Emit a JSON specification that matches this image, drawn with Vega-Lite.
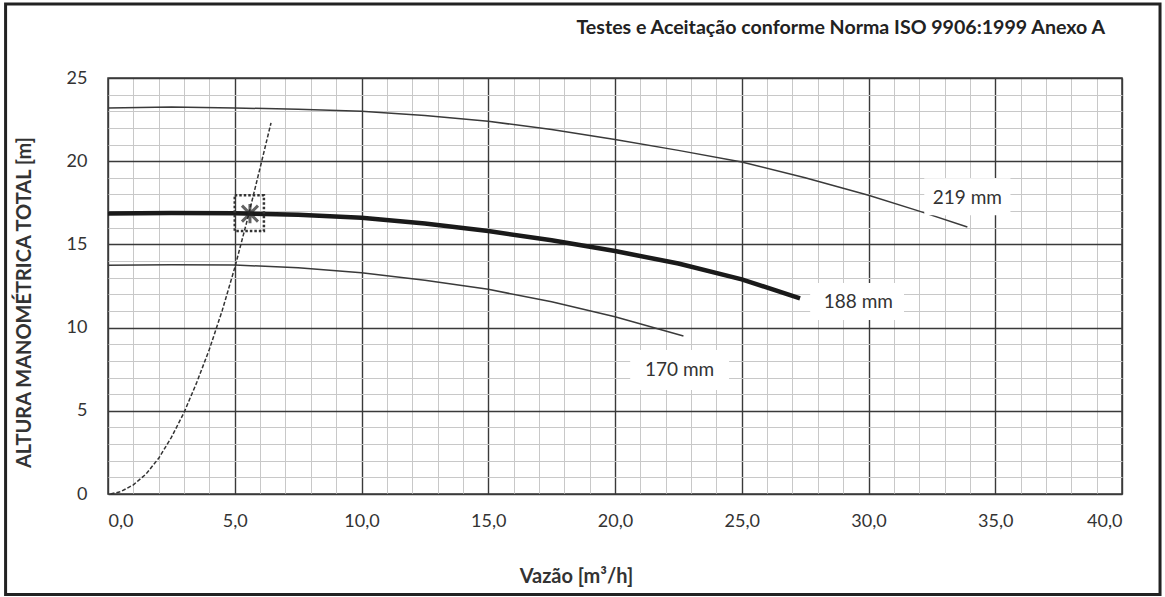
{
  "$schema": "https://vega.github.io/schema/vega-lite/v6.json",
  "width": 1014,
  "height": 416,
  "autosize": "none",
  "padding": {"left": 108, "top": 78, "right": 43, "bottom": 103},
  "background": "white",
  "config": {
    "view": {"stroke": "#3a3a3a", "strokeWidth": 1.5},
    "font": "Lato"
  },
  "title": {
    "text": "Testes e Aceitação conforme Norma ISO 9906:1999 Anexo A",
    "anchor": "end",
    "frame": "group",
    "font": "Lato",
    "fontSize": 19.6,
    "fontWeight": "bold",
    "color": "#222",
    "offset": -36,
    "dx": -17
  },
  "datasets": {
    "curves": [
      {"curve": "219 mm", "x": 0, "y": 23.2},
      {"curve": "219 mm", "x": 2.5, "y": 23.25},
      {"curve": "219 mm", "x": 5, "y": 23.2},
      {"curve": "219 mm", "x": 7.5, "y": 23.12},
      {"curve": "219 mm", "x": 10, "y": 23.0},
      {"curve": "219 mm", "x": 12.5, "y": 22.75},
      {"curve": "219 mm", "x": 15, "y": 22.4},
      {"curve": "219 mm", "x": 17.5, "y": 21.9},
      {"curve": "219 mm", "x": 20, "y": 21.3},
      {"curve": "219 mm", "x": 22.5, "y": 20.65},
      {"curve": "219 mm", "x": 25, "y": 19.95},
      {"curve": "219 mm", "x": 27.5, "y": 19.0},
      {"curve": "219 mm", "x": 30, "y": 17.95},
      {"curve": "219 mm", "x": 32, "y": 17.0},
      {"curve": "219 mm", "x": 33.9, "y": 16.05},
      {"curve": "188 mm", "x": 0, "y": 16.85},
      {"curve": "188 mm", "x": 2.5, "y": 16.88},
      {"curve": "188 mm", "x": 5, "y": 16.87},
      {"curve": "188 mm", "x": 7.5, "y": 16.78},
      {"curve": "188 mm", "x": 10, "y": 16.6},
      {"curve": "188 mm", "x": 12.5, "y": 16.25},
      {"curve": "188 mm", "x": 15, "y": 15.8},
      {"curve": "188 mm", "x": 17.5, "y": 15.25},
      {"curve": "188 mm", "x": 20, "y": 14.6},
      {"curve": "188 mm", "x": 22.5, "y": 13.85},
      {"curve": "188 mm", "x": 25, "y": 12.9},
      {"curve": "188 mm", "x": 27.3, "y": 11.75},
      {"curve": "170 mm", "x": 0, "y": 13.75},
      {"curve": "170 mm", "x": 2.5, "y": 13.78},
      {"curve": "170 mm", "x": 5, "y": 13.76},
      {"curve": "170 mm", "x": 7.5, "y": 13.6},
      {"curve": "170 mm", "x": 10, "y": 13.3},
      {"curve": "170 mm", "x": 12.5, "y": 12.85},
      {"curve": "170 mm", "x": 15, "y": 12.3},
      {"curve": "170 mm", "x": 17.5, "y": 11.55},
      {"curve": "170 mm", "x": 20, "y": 10.65},
      {"curve": "170 mm", "x": 22.7, "y": 9.5},
      {"curve": "sistema", "x": 0.1, "y": 0},
      {"curve": "sistema", "x": 0.5, "y": 0.14},
      {"curve": "sistema", "x": 1, "y": 0.55},
      {"curve": "sistema", "x": 1.5, "y": 1.2},
      {"curve": "sistema", "x": 2, "y": 2.15},
      {"curve": "sistema", "x": 2.5, "y": 3.4},
      {"curve": "sistema", "x": 3, "y": 4.9},
      {"curve": "sistema", "x": 3.5, "y": 6.7},
      {"curve": "sistema", "x": 4, "y": 8.7},
      {"curve": "sistema", "x": 4.5, "y": 11.0},
      {"curve": "sistema", "x": 5, "y": 13.6},
      {"curve": "sistema", "x": 5.5, "y": 16.5},
      {"curve": "sistema", "x": 6, "y": 19.6},
      {"curve": "sistema", "x": 6.43, "y": 22.3}
    ],
    "labels": [
      {"label": "219 mm", "x": 33.9, "y": 17.76, "x0": 32.2, "x1": 35.6, "y0": 16.75, "y1": 18.97},
      {"label": "188 mm", "x": 29.6, "y": 11.55, "x0": 27.7, "x1": 31.4, "y0": 10.45, "y1": 12.68},
      {"label": "170 mm", "x": 22.55, "y": 7.46, "x0": 20.6, "x1": 24.5, "y0": 6.25, "y1": 8.65}
    ],
    "point": [
      {"x": 5.6, "y": 16.85, "x0": 5.0, "x1": 6.15, "y0": 15.8, "y1": 17.95}
    ]
  },
  "layer": [
    {
      "data": {"name": "curves"},
      "transform": [{"filter": "datum.curve === '219 mm' || datum.curve === '170 mm'"}],
      "mark": {"type": "line", "color": "#3a3a3a", "strokeWidth": 1.5},
      "encoding": {
        "detail": {"field": "curve"},
        "x": {"field": "x", "type": "quantitative", "scale": {"domain": [0, 40], "nice": false, "zero": false},
          "axis": {"values": [0,1,2,3,4,5,6,7,8,9,10,11,12,13,14,15,16,17,18,19,20,21,22,23,24,25,26,27,28,29,30,31,32,33,34,35,36,37,38,39,40], "labelExpr": "datum.value % 5 === 0 ? replace(format(datum.value, '.1f'), '.', ',') : ''", "labelOverlap": false, "labelFont": "Lato", "labelFontSize": 18, "labelColor": "#333", "labelPadding": 18, "ticks": false, "domain": false, "grid": true, "gridColor": {"condition": {"test": "datum.value % 5 === 0", "value": "#3a3a3a"}, "value": "#c8c8c8"}, "gridWidth": {"condition": {"test": "datum.value % 5 === 0", "value": 1.4}, "value": 1}, "title": "Vazão [m³/h]", "titleFont": "Lato", "titleFontSize": 20, "titleFontWeight": "bold", "titleColor": "#333", "titleX": 468, "titleY": 82, "titleBaseline": "middle", "titleAlign": "center"}},
        "y": {"field": "y", "type": "quantitative", "scale": {"domain": [0, 25], "nice": false, "zero": false},
          "axis": {"values": [0,1,2,3,4,5,6,7,8,9,10,11,12,13,14,15,16,17,18,19,20,21,22,23,24,25], "labelExpr": "datum.value % 5 === 0 ? format(datum.value, 'd') : ''", "labelOverlap": false, "labelFont": "Lato", "labelFontSize": 18, "labelColor": "#333", "labelPadding": 21, "ticks": false, "domain": false, "grid": true, "gridColor": {"condition": {"test": "datum.value % 5 === 0", "value": "#3a3a3a"}, "value": "#c8c8c8"}, "gridWidth": {"condition": {"test": "datum.value % 5 === 0", "value": 1.4}, "value": 1}, "title": "ALTURA MANOMÉTRICA TOTAL [m]", "titleFont": "Lato", "titleFontSize": 20, "titleFontWeight": "bold", "titleColor": "#333", "titleX": -84, "titleY": 224, "titleAngle": -90, "titleBaseline": "middle", "titleAlign": "center"}}
      }
    },
    {
      "data": {"name": "curves"},
      "transform": [{"filter": "datum.curve === '188 mm'"}],
      "mark": {"type": "line", "color": "#1a1a1a", "strokeWidth": 4.5},
      "encoding": {
        "x": {"field": "x", "type": "quantitative", "scale": {"domain": [0, 40], "nice": false, "zero": false},
          "axis": {"values": [0,1,2,3,4,5,6,7,8,9,10,11,12,13,14,15,16,17,18,19,20,21,22,23,24,25,26,27,28,29,30,31,32,33,34,35,36,37,38,39,40], "labelExpr": "datum.value % 5 === 0 ? replace(format(datum.value, '.1f'), '.', ',') : ''", "labelOverlap": false, "labelFont": "Lato", "labelFontSize": 18, "labelColor": "#333", "labelPadding": 18, "ticks": false, "domain": false, "grid": true, "gridColor": {"condition": {"test": "datum.value % 5 === 0", "value": "#3a3a3a"}, "value": "#c8c8c8"}, "gridWidth": {"condition": {"test": "datum.value % 5 === 0", "value": 1.4}, "value": 1}, "title": "Vazão [m³/h]", "titleFont": "Lato", "titleFontSize": 20, "titleFontWeight": "bold", "titleColor": "#333", "titleX": 468, "titleY": 82, "titleBaseline": "middle", "titleAlign": "center"}},
        "y": {"field": "y", "type": "quantitative", "scale": {"domain": [0, 25], "nice": false, "zero": false},
          "axis": {"values": [0,1,2,3,4,5,6,7,8,9,10,11,12,13,14,15,16,17,18,19,20,21,22,23,24,25], "labelExpr": "datum.value % 5 === 0 ? format(datum.value, 'd') : ''", "labelOverlap": false, "labelFont": "Lato", "labelFontSize": 18, "labelColor": "#333", "labelPadding": 21, "ticks": false, "domain": false, "grid": true, "gridColor": {"condition": {"test": "datum.value % 5 === 0", "value": "#3a3a3a"}, "value": "#c8c8c8"}, "gridWidth": {"condition": {"test": "datum.value % 5 === 0", "value": 1.4}, "value": 1}, "title": "ALTURA MANOMÉTRICA TOTAL [m]", "titleFont": "Lato", "titleFontSize": 20, "titleFontWeight": "bold", "titleColor": "#333", "titleX": -84, "titleY": 224, "titleAngle": -90, "titleBaseline": "middle", "titleAlign": "center"}}
      }
    },
    {
      "data": {"name": "curves"},
      "transform": [{"filter": "datum.curve === 'sistema'"}],
      "mark": {"type": "line", "color": "#333", "strokeWidth": 1.5, "strokeDash": [4, 2]},
      "encoding": {
        "x": {"field": "x", "type": "quantitative", "scale": {"domain": [0, 40], "nice": false, "zero": false},
          "axis": {"values": [0,1,2,3,4,5,6,7,8,9,10,11,12,13,14,15,16,17,18,19,20,21,22,23,24,25,26,27,28,29,30,31,32,33,34,35,36,37,38,39,40], "labelExpr": "datum.value % 5 === 0 ? replace(format(datum.value, '.1f'), '.', ',') : ''", "labelOverlap": false, "labelFont": "Lato", "labelFontSize": 18, "labelColor": "#333", "labelPadding": 18, "ticks": false, "domain": false, "grid": true, "gridColor": {"condition": {"test": "datum.value % 5 === 0", "value": "#3a3a3a"}, "value": "#c8c8c8"}, "gridWidth": {"condition": {"test": "datum.value % 5 === 0", "value": 1.4}, "value": 1}, "title": "Vazão [m³/h]", "titleFont": "Lato", "titleFontSize": 20, "titleFontWeight": "bold", "titleColor": "#333", "titleX": 468, "titleY": 82, "titleBaseline": "middle", "titleAlign": "center"}},
        "y": {"field": "y", "type": "quantitative", "scale": {"domain": [0, 25], "nice": false, "zero": false},
          "axis": {"values": [0,1,2,3,4,5,6,7,8,9,10,11,12,13,14,15,16,17,18,19,20,21,22,23,24,25], "labelExpr": "datum.value % 5 === 0 ? format(datum.value, 'd') : ''", "labelOverlap": false, "labelFont": "Lato", "labelFontSize": 18, "labelColor": "#333", "labelPadding": 21, "ticks": false, "domain": false, "grid": true, "gridColor": {"condition": {"test": "datum.value % 5 === 0", "value": "#3a3a3a"}, "value": "#c8c8c8"}, "gridWidth": {"condition": {"test": "datum.value % 5 === 0", "value": 1.4}, "value": 1}, "title": "ALTURA MANOMÉTRICA TOTAL [m]", "titleFont": "Lato", "titleFontSize": 20, "titleFontWeight": "bold", "titleColor": "#333", "titleX": -84, "titleY": 224, "titleAngle": -90, "titleBaseline": "middle", "titleAlign": "center"}}
      }
    },
    {
      "data": {"name": "labels"},
      "mark": {"type": "rect", "fill": "white"},
      "encoding": {
        "x": {"field": "x0", "type": "quantitative", "scale": {"domain": [0, 40], "nice": false, "zero": false},
          "axis": {"values": [0,1,2,3,4,5,6,7,8,9,10,11,12,13,14,15,16,17,18,19,20,21,22,23,24,25,26,27,28,29,30,31,32,33,34,35,36,37,38,39,40], "labelExpr": "datum.value % 5 === 0 ? replace(format(datum.value, '.1f'), '.', ',') : ''", "labelOverlap": false, "labelFont": "Lato", "labelFontSize": 18, "labelColor": "#333", "labelPadding": 18, "ticks": false, "domain": false, "grid": true, "gridColor": {"condition": {"test": "datum.value % 5 === 0", "value": "#3a3a3a"}, "value": "#c8c8c8"}, "gridWidth": {"condition": {"test": "datum.value % 5 === 0", "value": 1.4}, "value": 1}, "title": "Vazão [m³/h]", "titleFont": "Lato", "titleFontSize": 20, "titleFontWeight": "bold", "titleColor": "#333", "titleX": 468, "titleY": 82, "titleBaseline": "middle", "titleAlign": "center"}},
        "x2": {"field": "x1"},
        "y": {"field": "y0", "type": "quantitative", "scale": {"domain": [0, 25], "nice": false, "zero": false},
          "axis": {"values": [0,1,2,3,4,5,6,7,8,9,10,11,12,13,14,15,16,17,18,19,20,21,22,23,24,25], "labelExpr": "datum.value % 5 === 0 ? format(datum.value, 'd') : ''", "labelOverlap": false, "labelFont": "Lato", "labelFontSize": 18, "labelColor": "#333", "labelPadding": 21, "ticks": false, "domain": false, "grid": true, "gridColor": {"condition": {"test": "datum.value % 5 === 0", "value": "#3a3a3a"}, "value": "#c8c8c8"}, "gridWidth": {"condition": {"test": "datum.value % 5 === 0", "value": 1.4}, "value": 1}, "title": "ALTURA MANOMÉTRICA TOTAL [m]", "titleFont": "Lato", "titleFontSize": 20, "titleFontWeight": "bold", "titleColor": "#333", "titleX": -84, "titleY": 224, "titleAngle": -90, "titleBaseline": "middle", "titleAlign": "center"}},
        "y2": {"field": "y1"}
      }
    },
    {
      "data": {"name": "labels"},
      "mark": {"type": "text", "font": "Lato", "fontSize": 19, "color": "#333", "align": "center", "baseline": "middle"},
      "encoding": {
        "x": {"field": "x", "type": "quantitative", "scale": {"domain": [0, 40], "nice": false, "zero": false},
          "axis": {"values": [0,1,2,3,4,5,6,7,8,9,10,11,12,13,14,15,16,17,18,19,20,21,22,23,24,25,26,27,28,29,30,31,32,33,34,35,36,37,38,39,40], "labelExpr": "datum.value % 5 === 0 ? replace(format(datum.value, '.1f'), '.', ',') : ''", "labelOverlap": false, "labelFont": "Lato", "labelFontSize": 18, "labelColor": "#333", "labelPadding": 18, "ticks": false, "domain": false, "grid": true, "gridColor": {"condition": {"test": "datum.value % 5 === 0", "value": "#3a3a3a"}, "value": "#c8c8c8"}, "gridWidth": {"condition": {"test": "datum.value % 5 === 0", "value": 1.4}, "value": 1}, "title": "Vazão [m³/h]", "titleFont": "Lato", "titleFontSize": 20, "titleFontWeight": "bold", "titleColor": "#333", "titleX": 468, "titleY": 82, "titleBaseline": "middle", "titleAlign": "center"}},
        "y": {"field": "y", "type": "quantitative", "scale": {"domain": [0, 25], "nice": false, "zero": false},
          "axis": {"values": [0,1,2,3,4,5,6,7,8,9,10,11,12,13,14,15,16,17,18,19,20,21,22,23,24,25], "labelExpr": "datum.value % 5 === 0 ? format(datum.value, 'd') : ''", "labelOverlap": false, "labelFont": "Lato", "labelFontSize": 18, "labelColor": "#333", "labelPadding": 21, "ticks": false, "domain": false, "grid": true, "gridColor": {"condition": {"test": "datum.value % 5 === 0", "value": "#3a3a3a"}, "value": "#c8c8c8"}, "gridWidth": {"condition": {"test": "datum.value % 5 === 0", "value": 1.4}, "value": 1}, "title": "ALTURA MANOMÉTRICA TOTAL [m]", "titleFont": "Lato", "titleFontSize": 20, "titleFontWeight": "bold", "titleColor": "#333", "titleX": -84, "titleY": 224, "titleAngle": -90, "titleBaseline": "middle", "titleAlign": "center"}},
        "text": {"field": "label"}
      }
    },
    {
      "data": {"name": "point"},
      "mark": {"type": "rect", "fill": null, "fillOpacity": 0, "stroke": "#333", "strokeWidth": 2.5, "strokeDash": [2.5, 2]},
      "encoding": {
        "x": {"field": "x0", "type": "quantitative", "scale": {"domain": [0, 40], "nice": false, "zero": false},
          "axis": {"values": [0,1,2,3,4,5,6,7,8,9,10,11,12,13,14,15,16,17,18,19,20,21,22,23,24,25,26,27,28,29,30,31,32,33,34,35,36,37,38,39,40], "labelExpr": "datum.value % 5 === 0 ? replace(format(datum.value, '.1f'), '.', ',') : ''", "labelOverlap": false, "labelFont": "Lato", "labelFontSize": 18, "labelColor": "#333", "labelPadding": 18, "ticks": false, "domain": false, "grid": true, "gridColor": {"condition": {"test": "datum.value % 5 === 0", "value": "#3a3a3a"}, "value": "#c8c8c8"}, "gridWidth": {"condition": {"test": "datum.value % 5 === 0", "value": 1.4}, "value": 1}, "title": "Vazão [m³/h]", "titleFont": "Lato", "titleFontSize": 20, "titleFontWeight": "bold", "titleColor": "#333", "titleX": 468, "titleY": 82, "titleBaseline": "middle", "titleAlign": "center"}},
        "x2": {"field": "x1"},
        "y": {"field": "y0", "type": "quantitative", "scale": {"domain": [0, 25], "nice": false, "zero": false},
          "axis": {"values": [0,1,2,3,4,5,6,7,8,9,10,11,12,13,14,15,16,17,18,19,20,21,22,23,24,25], "labelExpr": "datum.value % 5 === 0 ? format(datum.value, 'd') : ''", "labelOverlap": false, "labelFont": "Lato", "labelFontSize": 18, "labelColor": "#333", "labelPadding": 21, "ticks": false, "domain": false, "grid": true, "gridColor": {"condition": {"test": "datum.value % 5 === 0", "value": "#3a3a3a"}, "value": "#c8c8c8"}, "gridWidth": {"condition": {"test": "datum.value % 5 === 0", "value": 1.4}, "value": 1}, "title": "ALTURA MANOMÉTRICA TOTAL [m]", "titleFont": "Lato", "titleFontSize": 20, "titleFontWeight": "bold", "titleColor": "#333", "titleX": -84, "titleY": 224, "titleAngle": -90, "titleBaseline": "middle", "titleAlign": "center"}},
        "y2": {"field": "y1"}
      }
    },
    {
      "data": {"name": "point"},
      "mark": {"type": "point", "shape": "M-1,-1L1,1M-1,1L1,-1M0,-1.2L0,1.2", "filled": false, "color": "#222", "strokeWidth": 3, "size": 256},
      "encoding": {
        "x": {"field": "x", "type": "quantitative", "scale": {"domain": [0, 40], "nice": false, "zero": false},
          "axis": {"values": [0,1,2,3,4,5,6,7,8,9,10,11,12,13,14,15,16,17,18,19,20,21,22,23,24,25,26,27,28,29,30,31,32,33,34,35,36,37,38,39,40], "labelExpr": "datum.value % 5 === 0 ? replace(format(datum.value, '.1f'), '.', ',') : ''", "labelOverlap": false, "labelFont": "Lato", "labelFontSize": 18, "labelColor": "#333", "labelPadding": 18, "ticks": false, "domain": false, "grid": true, "gridColor": {"condition": {"test": "datum.value % 5 === 0", "value": "#3a3a3a"}, "value": "#c8c8c8"}, "gridWidth": {"condition": {"test": "datum.value % 5 === 0", "value": 1.4}, "value": 1}, "title": "Vazão [m³/h]", "titleFont": "Lato", "titleFontSize": 20, "titleFontWeight": "bold", "titleColor": "#333", "titleX": 468, "titleY": 82, "titleBaseline": "middle", "titleAlign": "center"}},
        "y": {"field": "y", "type": "quantitative", "scale": {"domain": [0, 25], "nice": false, "zero": false},
          "axis": {"values": [0,1,2,3,4,5,6,7,8,9,10,11,12,13,14,15,16,17,18,19,20,21,22,23,24,25], "labelExpr": "datum.value % 5 === 0 ? format(datum.value, 'd') : ''", "labelOverlap": false, "labelFont": "Lato", "labelFontSize": 18, "labelColor": "#333", "labelPadding": 21, "ticks": false, "domain": false, "grid": true, "gridColor": {"condition": {"test": "datum.value % 5 === 0", "value": "#3a3a3a"}, "value": "#c8c8c8"}, "gridWidth": {"condition": {"test": "datum.value % 5 === 0", "value": 1.4}, "value": 1}, "title": "ALTURA MANOMÉTRICA TOTAL [m]", "titleFont": "Lato", "titleFontSize": 20, "titleFontWeight": "bold", "titleColor": "#333", "titleX": -84, "titleY": 224, "titleAngle": -90, "titleBaseline": "middle", "titleAlign": "center"}}
      }
    },
    {
      "data": {"values": [{}]},
      "mark": {"type": "rect", "fill": null, "fillOpacity": 0, "stroke": "#222", "strokeWidth": 3, "clip": false},
      "encoding": {
        "x": {"datum": -4.04, "type": "quantitative", "scale": {"domain": [0, 40], "nice": false, "zero": false},
          "axis": {"values": [0,1,2,3,4,5,6,7,8,9,10,11,12,13,14,15,16,17,18,19,20,21,22,23,24,25,26,27,28,29,30,31,32,33,34,35,36,37,38,39,40], "labelExpr": "datum.value % 5 === 0 ? replace(format(datum.value, '.1f'), '.', ',') : ''", "labelOverlap": false, "labelFont": "Lato", "labelFontSize": 18, "labelColor": "#333", "labelPadding": 18, "ticks": false, "domain": false, "grid": true, "gridColor": {"condition": {"test": "datum.value % 5 === 0", "value": "#3a3a3a"}, "value": "#c8c8c8"}, "gridWidth": {"condition": {"test": "datum.value % 5 === 0", "value": 1.4}, "value": 1}, "title": "Vazão [m³/h]", "titleFont": "Lato", "titleFontSize": 20, "titleFontWeight": "bold", "titleColor": "#333", "titleX": 468, "titleY": 82, "titleBaseline": "middle", "titleAlign": "center"}},
        "x2": {"datum": 41.5},
        "y": {"datum": 29.44, "type": "quantitative", "scale": {"domain": [0, 25], "nice": false, "zero": false},
          "axis": {"values": [0,1,2,3,4,5,6,7,8,9,10,11,12,13,14,15,16,17,18,19,20,21,22,23,24,25], "labelExpr": "datum.value % 5 === 0 ? format(datum.value, 'd') : ''", "labelOverlap": false, "labelFont": "Lato", "labelFontSize": 18, "labelColor": "#333", "labelPadding": 21, "ticks": false, "domain": false, "grid": true, "gridColor": {"condition": {"test": "datum.value % 5 === 0", "value": "#3a3a3a"}, "value": "#c8c8c8"}, "gridWidth": {"condition": {"test": "datum.value % 5 === 0", "value": 1.4}, "value": 1}, "title": "ALTURA MANOMÉTRICA TOTAL [m]", "titleFont": "Lato", "titleFontSize": 20, "titleFontWeight": "bold", "titleColor": "#333", "titleX": -84, "titleY": 224, "titleAngle": -90, "titleBaseline": "middle", "titleAlign": "center"}},
        "y2": {"datum": -6.04}
      }
    }
  ]
}
